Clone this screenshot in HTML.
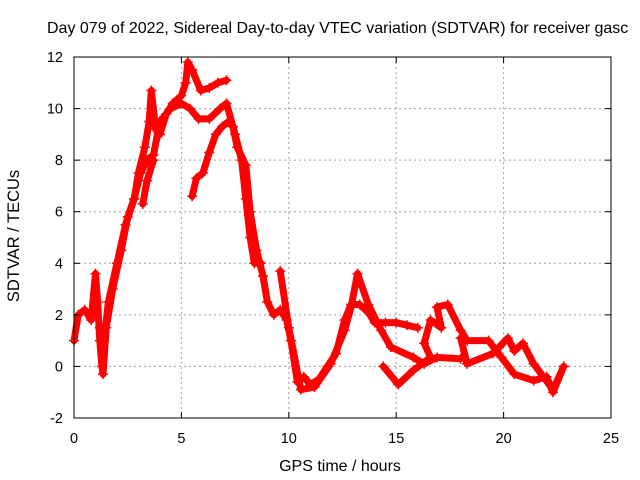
<!DOCTYPE html>
<html><head><meta charset="utf-8"><style>
body{margin:0;background:#fff}
svg{display:block;font-family:"Liberation Sans",sans-serif}
</style></head><body>
<svg id="chart" width="640" height="480" viewBox="0 0 640 480" xmlns="http://www.w3.org/2000/svg">
<rect width="640" height="480" fill="#fff"/>
<text x="47" y="33" font-size="16" fill="#000">Day 079 of 2022, Sidereal Day-to-day VTEC variation (SDTVAR) for receiver gasc</text>
<g id="grid"></g>
<g id="marks"></g>
<g id="axes"></g>
<text transform="translate(19,236) rotate(-90)" text-anchor="middle" font-size="16.5">SDTVAR / TECUs</text>
<text x="340" y="471" text-anchor="middle" font-size="16">GPS time / hours</text>
</svg>
<script>
const xTicks=[0,5,10,15,20,25];
const yTicks=[-2,0,2,4,6,8,10,12];
const s1T=[0,0.2,0.5,0.8,1.0,1.1,1.2,1.3,1.35,1.5,1.8,2.2,2.5,2.8,3.0,3.3,3.5,3.6,3.8,4.0,4.3,4.6,5.0,5.2,5.3,5.5,5.9,6.3,6.7,7.1];
const s1V=[1.0,2.0,2.2,1.8,3.6,2.5,1.0,0.0,-0.3,1.5,3.0,4.5,5.8,6.5,7.5,8.5,9.5,10.7,9.2,9.0,9.8,10.2,10.5,11.0,11.8,11.5,10.7,10.8,11.0,11.1];
const s2T=[1.2,1.4,1.6,2.0,2.4,2.8,3.1,3.4,3.7,4.0,4.5,5.0,5.4,5.8,6.3,6.8,7.1,7.5,7.8,8.0,8.2,8.4,8.7];
const s2V=[1.5,1.0,2.5,4.0,5.5,6.5,7.5,8.0,8.2,9.5,10.0,10.2,10.0,9.6,9.6,10.0,10.2,9.0,8.0,6.5,5.0,4.0,4.0];
const s3T=[3.2,3.4,3.7];
const s3V=[6.3,7.2,8.0];
const s4T=[5.5,5.7,6.0,6.3,6.6,6.9,7.2,7.4,7.6,8.0,8.2,8.5,8.8,9.0,9.3,9.6,9.9,10.1,10.4,10.7,11.0,11.4,11.8,12.2,12.6,12.9,13.3,13.7,14.0,14.5,15.0,15.5,16.0];
const s4V=[6.6,7.3,7.5,8.3,9.0,9.3,9.5,9.3,8.5,7.8,6.0,4.5,3.5,2.5,2.0,2.2,1.8,1.0,-0.6,-0.4,-0.7,-0.5,0.0,0.5,1.8,2.4,2.4,2.1,1.7,1.7,1.7,1.6,1.5];
const s5T=[9.6,10.0,10.56,11.2,11.95,12.6,12.9,13.2,13.7,14.3,14.75,15.8,16.3,16.9,18.0];
const s5V=[3.7,1.5,-0.9,-0.8,0.1,1.4,2.3,3.6,2.4,1.4,0.75,0.35,0.1,0.35,0.3];
const s6T=[14.4,15.1,15.8,16.6,16.3,16.6,17.1,16.9,17.4,18.0,18.3,19.3,19.9,20.5,21.4,22.0,22.3,22.8];
const s6V=[0.0,-0.7,-0.15,0.35,0.9,1.8,1.5,2.3,2.4,1.4,1.0,1.0,0.35,-0.3,-0.55,-0.4,-1.0,0.0];
const s7T=[18.0,18.3,19.5,20.2,20.5,20.9,21.4,22.3,22.8];
const s7V=[1.1,0.1,0.5,1.1,0.6,0.9,0.1,-0.9,0.0];
const seriesT=[s1T,s2T,s3T,s4T,s5T,s6T,s7T];
const seriesV=[s1V,s2V,s3V,s4V,s5V,s6V,s7V];

const L=74,R=611,T=57,B=418;
const xs=t=>L+(t-0)/25*(R-L);
const ys=v=>B-(v+2)/14*(B-T);
const NS='http://www.w3.org/2000/svg';
function mk(tag,attrs,parent){const e=document.createElementNS(NS,tag);for(const k in attrs)e.setAttribute(k,attrs[k]);parent.appendChild(e);return e;}
const grid=document.getElementById('grid'),axes=document.getElementById('axes'),marks=document.getElementById('marks');
xTicks.forEach(t=>{
  const x=xs(t);
  if(t>0&&t<25){const g=mk('line',{x1:x,x2:x,y1:T,y2:B,stroke:'#a0a0a0','stroke-dasharray':'2,3'},grid);
  
  }
  mk('line',{x1:x,x2:x,y1:B,y2:B-6,stroke:'#000'},axes);
  mk('line',{x1:x,x2:x,y1:T,y2:T+6,stroke:'#000'},axes);
  const tx=mk('text',{x:x,y:B+25,'text-anchor':'middle','font-size':'14.5'},axes);
  tx.textContent=t;
  
  
});
yTicks.forEach(v=>{
  const y=ys(v);
  if(v>-2&&v<12){const g=mk('line',{x1:L,x2:R,y1:y,y2:y,stroke:'#a0a0a0','stroke-dasharray':'2,3'},grid);
  
  }
  mk('line',{x1:L,x2:L+6,y1:y,y2:y,stroke:'#000'},axes);
  mk('line',{x1:R,x2:R-6,y1:y,y2:y,stroke:'#000'},axes);
  const tx=mk('text',{x:L-11,y:y+5,'text-anchor':'end','font-size':'14.5'},axes);
  tx.textContent=v;
  
  
});
const frame=mk('rect',{x:L,y:T,width:R-L,height:B-T,fill:'none',stroke:'#000'},axes);


seriesT.forEach((ts,i)=>{
  const vs=seriesV[i];
  const pts=ts.map((t,j)=>xs(t)+','+ys(vs[j])).join(' ');
  const pl=mk('polyline',{points:pts,fill:'none',stroke:'#ff0000','stroke-width':'7','stroke-linejoin':'round','stroke-linecap':'round'},marks);
  
  
  ts.forEach((t,j)=>{
    const x=xs(t),y=ys(vs[j]);
    const p=mk('path',{d:`M${x-5},${y}H${x+5}M${x},${y-5}V${y+5}`,stroke:'#ff0000','stroke-width':'1.5'},marks);
    
    
  });
});
</script>
</body></html>
